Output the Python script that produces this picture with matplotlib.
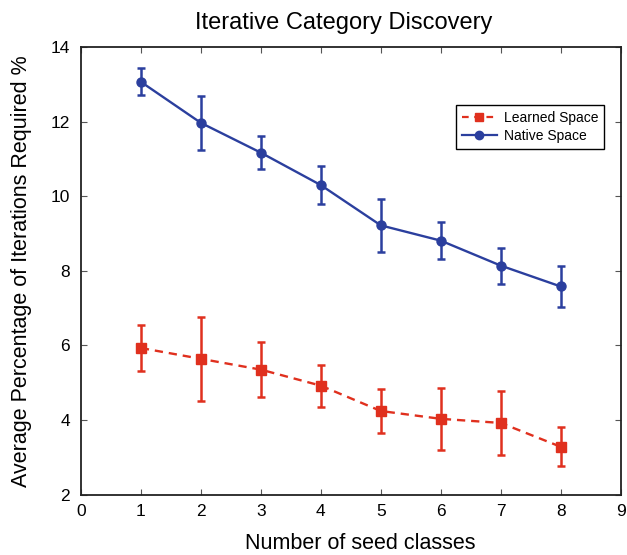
import matplotlib
matplotlib.use("Agg")
import matplotlib.pyplot as plt
from matplotlib.lines import Line2D

# data
seed_classes = [1, 2, 3, 4, 5, 6, 7, 8]
native_mean = [13.07, 11.97, 11.17, 10.30, 9.22, 8.81, 8.14, 7.58]
native_err = [0.36, 0.72, 0.45, 0.50, 0.72, 0.50, 0.48, 0.56]
learned_mean = [5.93, 5.64, 5.35, 4.92, 4.24, 4.03, 3.92, 3.28]
learned_err = [0.63, 1.12, 0.73, 0.56, 0.60, 0.83, 0.87, 0.52]

plt.rcParams['font.family'] = ['Liberation Sans', 'DejaVu Sans']

blue = '#2b3f9e'
red = '#e0301e'

fig = plt.figure(figsize=(6.27, 5.55), dpi=100)
ax = fig.add_axes([0.129, 0.109, 0.861, 0.806])

ax.errorbar(seed_classes, learned_mean, yerr=learned_err, color=red, linestyle='--',
            linewidth=1.7, marker='s', markersize=6.5, capsize=2.8, capthick=1.8,
            elinewidth=1.8, dashes=(3.5, 2.5))
ax.errorbar(seed_classes, native_mean, yerr=native_err, color=blue, linestyle='-',
            linewidth=1.7, marker='o', markersize=6.5, capsize=2.8, capthick=1.8,
            elinewidth=1.8)

ax.set_xlim(0, 9)
ax.set_ylim(2, 14)
ax.set_xticks(range(0, 10))
ax.set_yticks(range(2, 15, 2))
ax.tick_params(direction='in', top=True, right=True, labelsize=12.5, length=4,
               color='#555555')
ax.tick_params(axis='y', pad=8)
ax.tick_params(axis='x', pad=7)
for s in ax.spines.values():
    s.set_color('#222222')
    s.set_linewidth(1.3)

ax.set_title('Iterative Category Discovery', fontsize=17, pad=13, x=0.487)
ax.set_xlabel('Number of seed classes', fontsize=15.5, labelpad=10, x=0.517)
ax.set_ylabel('Average Percentage of Iterations Required %', fontsize=15.5,
              labelpad=13)

# legend shows plain line + marker, no error bars
handles = [
    Line2D([], [], color=red, linestyle='--', linewidth=1.6, dashes=(3, 2.5),
           marker='s', markersize=6),
    Line2D([], [], color=blue, linestyle='-', linewidth=1.6, marker='o',
           markersize=6),
]
leg = ax.legend(handles, ['Learned Space', 'Native Space'], loc='upper right',
                bbox_to_anchor=(0.9685, 0.870), borderaxespad=0, fontsize=10,
                fancybox=False, edgecolor='black', framealpha=1,
                handlelength=2.5, borderpad=0.4, labelspacing=0.3,
                handletextpad=0.5)
leg.get_frame().set_linewidth(1.0)

fig.savefig('out.png', dpi=100)
